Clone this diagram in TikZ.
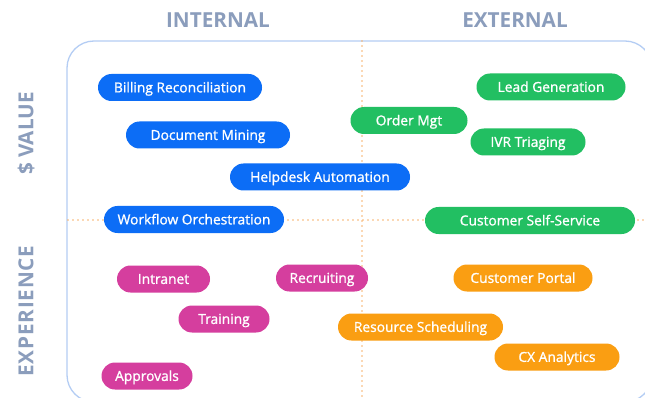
\documentclass[tikz,border=0pt]{standalone}
\usepackage{fontspec}
\setmainfont{Open Sans}
\newfontfamily\pillfont{Open Sans}[FakeBold=1.2]
\usetikzlibrary{calc}
\definecolor{hdr}{HTML}{8B9DBC}
\definecolor{framec}{HTML}{B4CDF4}
\definecolor{dotc}{HTML}{F7B26A}
\definecolor{pblue}{HTML}{0C6DF6}
\definecolor{pgreen}{HTML}{22BF62}
\definecolor{pmag}{HTML}{D53E9E}
\definecolor{porange}{HTML}{FA9E12}
\tikzset{
  pill/.style={rounded corners=13.5pt, minimum height=27pt, inner sep=0pt, text=white,
    font=\pillfont\fontsize{13.8}{14}\selectfont, text height=9.8pt, text depth=0pt, anchor=center},
  bluepill/.style={pill, fill=pblue},
  greenpill/.style={pill, fill=pgreen},
  magpill/.style={pill, fill=pmag},
  orangepill/.style={pill, fill=porange},
  header/.style={text=hdr, font=\fontsize{20.7}{21}\selectfont\bfseries},
  dotline/.style={dotc, line width=1.6pt, line cap=round, dash pattern=on 0pt off 5pt},
}
\begin{document}
\begin{tikzpicture}[x=1pt,y=-1pt]
\path[use as bounding box] (0,0) rectangle (645,398);
\clip (0,0) rectangle (645,398);
\fill[white] (0,0) rectangle (645,398);
% frame
\draw[framec, line width=1.3pt, rounded corners=27pt] (67,41) rectangle (652,402);
% dotted axes
\coordinate (vt) at (362,41);
\coordinate (vb) at (362,398);
\coordinate (hl) at (68,220);
\coordinate (hr) at (645,220);
\draw[dotline] (vt) -- (vb);
\draw[dotline] (hl) -- (hr);
% headers
\node[header] (internal) at (218,20.5) {INTERNAL};
\node[header] (external) at (515,20.5) {EXTERNAL};
\node[header, rotate=90] (value) at (26,133.5) {\$ VALUE};
\node[header, rotate=90] (experience) at (26,311) {\addfontfeatures{LetterSpace=4}EXPERIENCE};
% blue
\node[bluepill, minimum width=164pt] (billing) at (180,87.5) {Billing Reconciliation};
\node[bluepill, minimum width=164pt] (docmining) at (208,135) {Document Mining};
\node[bluepill, minimum width=180pt] (helpdesk) at (320,177) {Helpdesk Automation};
\node[bluepill, minimum width=180pt] (workflow) at (194,219.5) {Workflow Orchestration};
% green
\node[greenpill, minimum width=117pt] (order) at (409,120.5) {Order Mgt};
\node[greenpill, minimum width=149pt] (lead) at (551,87) {Lead Generation};
\node[greenpill, minimum width=115pt] (ivr) at (528,142) {IVR Triaging};
\node[greenpill, minimum width=210pt] (selfservice) at (530,220.5) {Customer Self-Service};
% magenta
\node[magpill, minimum width=93pt] (intranet) at (163.5,279) {Intranet};
\node[magpill, minimum width=92pt] (recruiting) at (322,278) {Recruiting};
\node[magpill, minimum width=91pt] (training) at (224,319) {Training};
\node[magpill, minimum width=91pt] (approvals) at (147,376) {Approvals};
% orange
\node[orangepill, minimum width=139pt] (portal) at (523,278) {Customer Portal};
\node[orangepill, minimum width=165pt] (scheduling) at (420.5,327) {Resource Scheduling};
\node[orangepill, minimum width=125pt] (cx) at (557,357) {CX Analytics};
\end{tikzpicture}
\end{document}
